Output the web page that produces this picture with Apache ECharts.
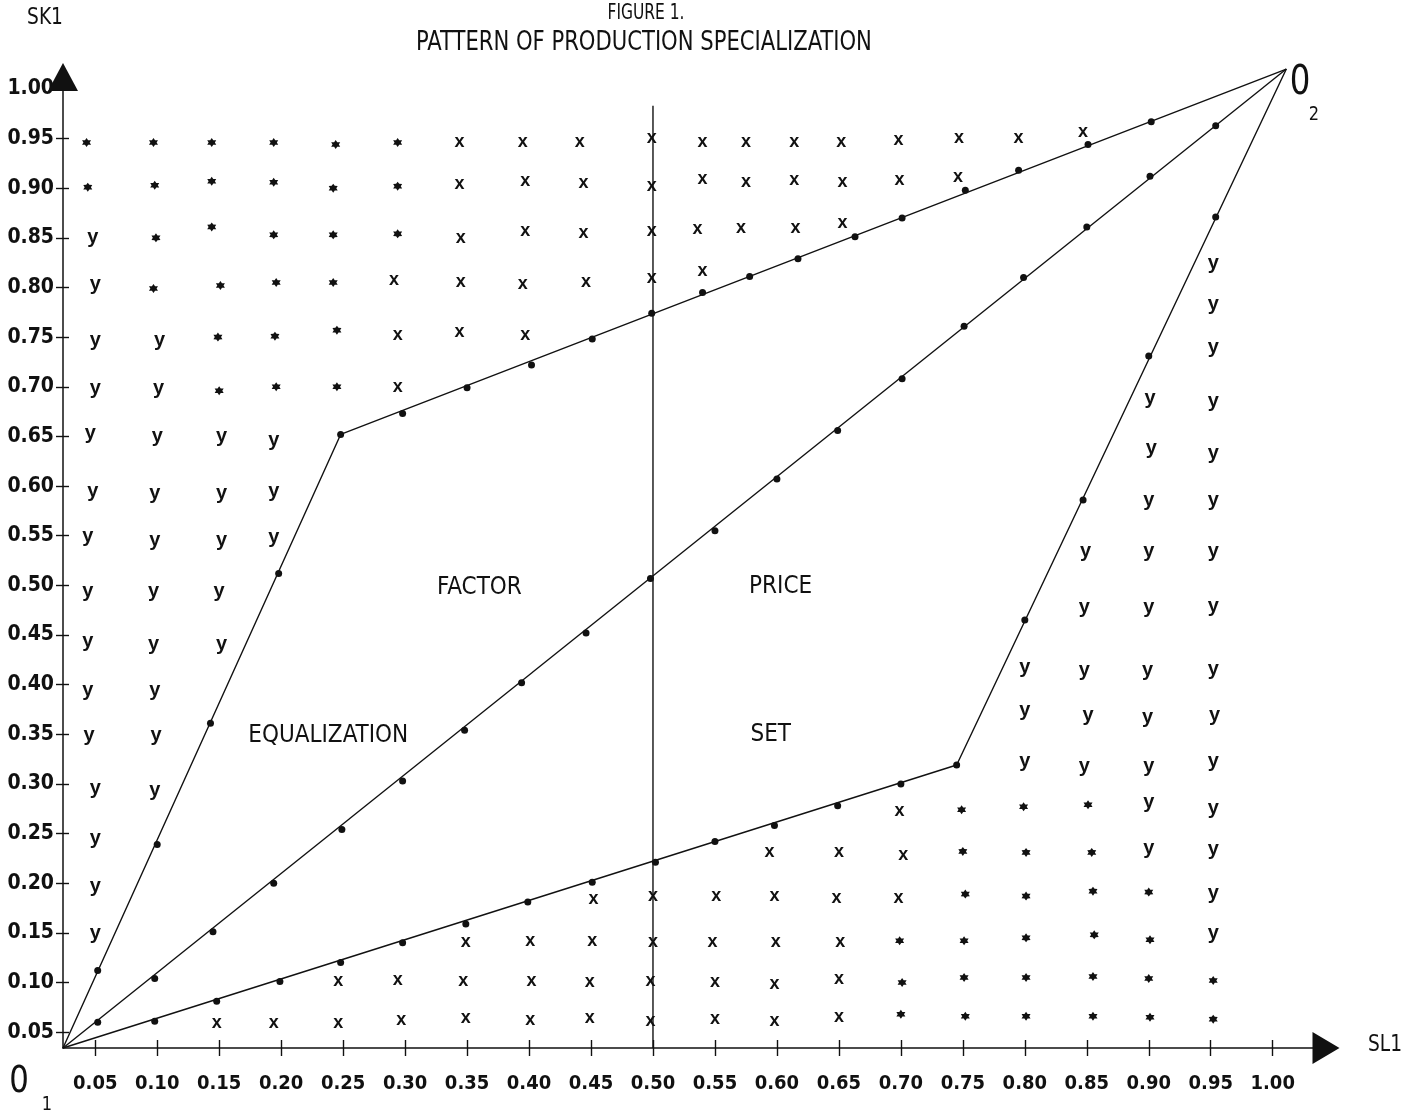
<!DOCTYPE html>
<html>
<head>
<meta charset="utf-8">
<title>Pattern of Production Specialization</title>
<script src="https://cdn.jsdelivr.net/npm/echarts@6/dist/echarts.min.js"></script>
<style>
html,body{margin:0;padding:0;background:#ffffff;}
#chart{width:1415px;height:1114px;}
</style>
</head>
<body>
<div id="chart"></div>
<script>
// Tick values along SL1 (horizontal) and SK1 (vertical)
const xTicks = [0.05,0.10,0.15,0.20,0.25,0.30,0.35,0.40,0.45,0.50,0.55,0.60,0.65,0.70,0.75,0.80,0.85,0.90,0.95,1.00];
const yTicks = [0.05,0.10,0.15,0.20,0.25,0.30,0.35,0.40,0.45,0.50,0.55,0.60,0.65,0.70,0.75,0.80,0.85,0.90,0.95,1.00];

// Visible axis ranges (the axes cross at origin O1)
const xRange = [0.024, 1.043];
const yRange = [0.034, 1.012];

// Corners of the factor price equalization set
const origin1 = [0.024, 0.034];
const origin2 = [1.011, 1.020];
const upperKink = [0.248, 0.652];
const lowerKink = [0.745, 0.319];

// Vertical divider at SL1 = 0.50
const dividerX = 0.50;
const dividerTop = 0.983;

// Marked points along the three boundary rays
const upperDots = [[0.052,0.112],[0.100,0.239],[0.143,0.361],[0.198,0.512],[0.248,0.652],[0.298,0.673],[0.350,0.699],[0.402,0.722],[0.451,0.748],[0.499,0.774],[0.540,0.795],[0.578,0.811],[0.617,0.829],[0.663,0.851],[0.701,0.870],[0.752,0.898],[0.795,0.918],[0.851,0.944],[0.902,0.967]];
const diagonalDots = [[0.052,0.060],[0.098,0.104],[0.145,0.151],[0.194,0.200],[0.249,0.254],[0.298,0.303],[0.348,0.354],[0.394,0.402],[0.446,0.452],[0.498,0.507],[0.550,0.555],[0.600,0.607],[0.649,0.656],[0.701,0.708],[0.751,0.761],[0.799,0.810],[0.850,0.861],[0.901,0.912],[0.954,0.963]];
const lowerDots = [[0.098,0.061],[0.148,0.081],[0.199,0.101],[0.248,0.120],[0.298,0.140],[0.349,0.159],[0.399,0.181],[0.451,0.201],[0.502,0.221],[0.550,0.242],[0.598,0.258],[0.649,0.278],[0.700,0.300],[0.745,0.319],[0.800,0.465],[0.847,0.586],[0.900,0.731],[0.954,0.871]];

// Allocations where both countries produce both goods (*)
const bothGoods = [
  [0.043,0.946],[0.097,0.946],[0.144,0.946],[0.194,0.946],[0.244,0.944],[0.294,0.946],
  [0.044,0.901],[0.098,0.903],[0.144,0.907],[0.194,0.906],[0.242,0.900],[0.294,0.902],
  [0.099,0.850],[0.144,0.861],[0.194,0.853],[0.242,0.853],[0.294,0.854],
  [0.097,0.799],[0.151,0.802],[0.196,0.805],[0.242,0.805],
  [0.149,0.750],[0.195,0.751],[0.245,0.757],
  [0.150,0.696],[0.196,0.700],[0.245,0.700],
  [0.749,0.274],[0.750,0.232],[0.752,0.189],[0.751,0.142],[0.751,0.105],[0.752,0.066],
  [0.799,0.277],[0.801,0.231],[0.801,0.187],[0.801,0.145],[0.801,0.105],[0.801,0.066],
  [0.851,0.279],[0.854,0.231],[0.855,0.192],[0.856,0.148],[0.855,0.106],[0.855,0.066],
  [0.900,0.191],[0.901,0.143],[0.900,0.104],[0.901,0.065],
  [0.952,0.102],[0.952,0.063],
  [0.699,0.142],[0.701,0.100],[0.700,0.068]
];

// Allocations specialised in good X
const specX = [
  [0.344,0.947],[0.395,0.947],[0.441,0.946],[0.499,0.951],[0.540,0.946],[0.575,0.946],[0.614,0.947],[0.652,0.947],[0.698,0.949],[0.747,0.951],[0.795,0.951],[0.847,0.957],
  [0.344,0.904],[0.397,0.907],[0.444,0.905],[0.499,0.902],[0.540,0.909],[0.575,0.906],[0.614,0.908],[0.653,0.906],[0.699,0.908],[0.746,0.911],
  [0.345,0.850],[0.397,0.857],[0.444,0.855],[0.499,0.857],[0.536,0.859],[0.571,0.860],[0.615,0.860],[0.653,0.865],
  [0.291,0.808],[0.345,0.805],[0.395,0.803],[0.446,0.805],[0.499,0.810],[0.540,0.817],
  [0.294,0.752],[0.344,0.755],[0.397,0.752],
  [0.294,0.700],
  [0.452,0.184],[0.500,0.187],
  [0.349,0.141],[0.401,0.142],[0.451,0.142],[0.500,0.141],
  [0.246,0.101],[0.294,0.102],[0.347,0.101],[0.402,0.101],[0.449,0.100],[0.498,0.101],
  [0.148,0.059],[0.194,0.059],[0.246,0.059],[0.297,0.062],[0.349,0.064],[0.401,0.062],[0.449,0.064],[0.498,0.061],
  [0.699,0.273],
  [0.594,0.231],[0.650,0.231],[0.702,0.228],
  [0.551,0.187],[0.598,0.187],[0.648,0.185],[0.698,0.185],
  [0.548,0.141],[0.599,0.141],[0.651,0.141],
  [0.550,0.100],[0.598,0.098],[0.650,0.103],
  [0.550,0.063],[0.598,0.061],[0.650,0.065]
];

// Allocations specialised in good Y
const specY = [
  [0.048,0.847],[0.050,0.800],[0.050,0.744],[0.050,0.695],[0.046,0.650],[0.048,0.592],[0.044,0.546],[0.044,0.491],[0.044,0.440],[0.044,0.391],[0.045,0.346],[0.050,0.292],[0.050,0.242],[0.050,0.194],[0.050,0.146],
  [0.102,0.744],[0.101,0.695],[0.100,0.647],[0.098,0.589],[0.098,0.542],[0.097,0.491],[0.097,0.437],[0.098,0.391],[0.099,0.346],[0.098,0.290],
  [0.152,0.647],[0.152,0.589],[0.152,0.542],[0.150,0.491],[0.152,0.437],
  [0.194,0.643],[0.194,0.592],[0.194,0.545],
  [0.800,0.414],[0.800,0.371],[0.800,0.320],
  [0.849,0.531],[0.848,0.475],[0.848,0.411],[0.851,0.366],[0.848,0.315],
  [0.901,0.685],[0.902,0.635],[0.900,0.582],[0.900,0.531],[0.900,0.475],[0.899,0.411],[0.899,0.364],[0.900,0.315],[0.900,0.278],[0.900,0.232],
  [0.952,0.821],[0.952,0.780],[0.952,0.737],[0.952,0.682],[0.952,0.630],[0.952,0.582],[0.952,0.531],[0.952,0.476],[0.952,0.412],[0.953,0.366],[0.952,0.320],[0.952,0.272],[0.952,0.231],[0.952,0.187],[0.952,0.146]
];

// Region captions inside the set
const regionNames = ['FACTOR', 'PRICE', 'EQUALIZATION', 'SET'];
const regionSpots = [[0.360,0.498],[0.603,0.499],[0.238,0.348],[0.595,0.349]];

const INK = '#111111';
const NARROW = "'DejaVu Sans Condensed','Liberation Sans Narrow','Liberation Sans',sans-serif";
const SANS = "'Liberation Sans','Arial',sans-serif";
const STAR = 'path://M10 0L13 4.8L18.66 5L16 10L18.66 15L13 15.2L10 20L7 15.2L1.34 15L4 10L1.34 5L7 4.8Z';

const chart = echarts.init(document.getElementById('chart'), null, { renderer: 'canvas' });

function glyphSeries(points, ch, size, dy, font, weight) {
  return {
    type: 'scatter',
    data: points,
    symbol: 'circle',
    symbolSize: 1,
    itemStyle: { color: 'rgba(0,0,0,0)', opacity: 1 },
    label: {
      show: true, position: 'inside', formatter: ch, offset: [0, dy],
      color: INK, opacity: 1, textBorderWidth: 0,
      fontFamily: font, fontSize: size, fontWeight: weight
    },
    silent: true, z: 4
  };
}

function rayLine(points) {
  return {
    type: 'line', data: points, symbol: 'none', clip: false, silent: true,
    lineStyle: { color: INK, width: 1.4 }, z: 2
  };
}

function caption(x, y, text, size, weight, sx) {
  return {
    type: 'text', x: x, y: y, scaleX: sx, scaleY: 1,
    style: {
      text: text, fill: INK, font: weight + ' ' + size + 'px ' + NARROW,
      textAlign: 'center', textVerticalAlign: 'middle', verticalAlign: 'middle'
    }
  };
}

const tickStyle = { color: INK, width: 1.4 };

const option = {
  animation: false,
  backgroundColor: '#ffffff',
  grid: { left: 63, right: 89, top: 77, bottom: 66, containLabel: false, outerBoundsMode: 'none' },
  xAxis: [
    {
      type: 'value', min: xRange[0], max: xRange[1], position: 'bottom',
      axisLine: { onZero: false, lineStyle: { color: INK, width: 1.5 }, symbol: ['none', 'triangle'], symbolSize: [32, 27] },
      axisTick: { customValues: xTicks, length: 8, lineStyle: tickStyle },
      axisLabel: { customValues: xTicks, formatter: v => v.toFixed(2), margin: 26, color: INK, fontFamily: NARROW, fontSize: 20, fontWeight: 'bold' },
      splitLine: { show: false }
    },
    {
      type: 'value', min: xRange[0], max: xRange[1], position: 'bottom',
      axisLine: { show: false, onZero: false },
      axisTick: { show: true, inside: true, customValues: xTicks, length: 8, lineStyle: tickStyle },
      axisLabel: { show: false },
      splitLine: { show: false }
    }
  ],
  yAxis: [
    {
      type: 'value', min: yRange[0], max: yRange[1], position: 'left',
      axisLine: { onZero: false, lineStyle: { color: INK, width: 1.5 }, symbol: ['none', 'triangle'], symbolSize: [30, 28] },
      axisTick: { customValues: yTicks, length: 7, lineStyle: tickStyle },
      axisLabel: { customValues: yTicks, formatter: v => v.toFixed(2), margin: 9, color: INK, fontFamily: NARROW, fontSize: 21, fontWeight: 'bold' },
      splitLine: { show: false }
    },
    {
      type: 'value', min: yRange[0], max: yRange[1], position: 'left',
      axisLine: { show: false, onZero: false },
      axisTick: { show: true, inside: true, customValues: yTicks, length: 6, lineStyle: tickStyle },
      axisLabel: { show: false },
      splitLine: { show: false }
    }
  ],
  graphic: [
    caption(646, 14, 'FIGURE 1.', 21, 'normal', 0.82),
    caption(644, 43, 'PATTERN OF PRODUCTION SPECIALIZATION', 27, 'normal', 0.87),
    caption(45, 18, 'SK1', 23, 'normal', 0.9),
    caption(1385, 1045, 'SL1', 23, 'normal', 0.9),
    caption(19, 1082, '0', 38, 'normal', 0.9),
    caption(47, 1105, '1', 20, 'normal', 0.9),
    caption(1300, 84, '0', 40, 'normal', 0.9),
    caption(1314, 115, '2', 20, 'normal', 0.9)
  ],
  series: [
    rayLine([origin1, upperKink, origin2]),
    rayLine([origin1, origin2]),
    rayLine([origin1, lowerKink, origin2]),
    rayLine([[dividerX, yRange[0]], [dividerX, dividerTop]]),
    {
      type: 'scatter', data: upperDots.concat(diagonalDots, lowerDots),
      symbol: 'circle', symbolSize: 7, itemStyle: { color: INK, opacity: 1 }, silent: true, z: 3
    },
    {
      type: 'scatter', data: bothGoods,
      symbol: STAR, symbolSize: 9, itemStyle: { color: INK, opacity: 1 }, silent: true, z: 3
    },
    glyphSeries(specX, 'x', 18, 0, SANS, 'bold'),
    glyphSeries(specY, 'y', 20, -3, SANS, 'bold'),
    {
      type: 'scatter',
      data: regionNames.map((n, i) => ({ name: n, value: regionSpots[i] })),
      symbol: 'circle', symbolSize: 1, itemStyle: { color: 'rgba(0,0,0,0)', opacity: 1 },
      label: { show: true, position: 'inside', formatter: '{b}', color: INK, opacity: 1, textBorderWidth: 0, fontFamily: NARROW, fontSize: 24 },
      silent: true, z: 4
    }
  ]
};

chart.setOption(option);
</script>
</body>
</html>
